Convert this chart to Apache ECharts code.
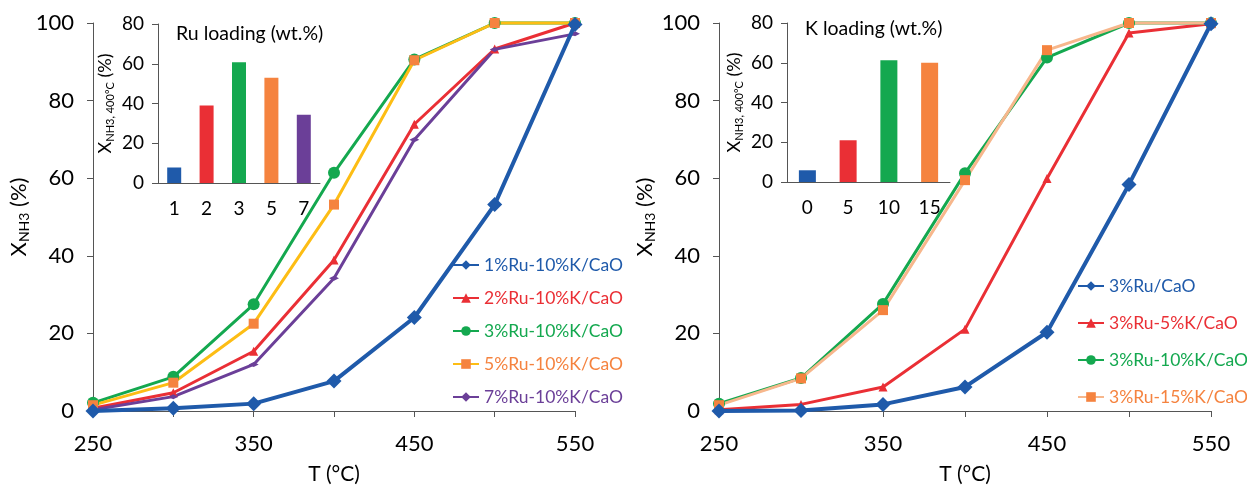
<!DOCTYPE html>
<html lang="en">
<head>
    <meta charset="UTF-8">
    <script src="https://cdn.jsdelivr.net/npm/echarts@6/dist/echarts.min.js"></script>
    <title>NH3 conversion</title>
    <style>
        html, body { margin: 0; padding: 0; background: #fff; }
        #chart { width: 1247px; height: 490px; }
    </style>
</head>
<body>
<div id="chart"></div>
<script type="text/javascript">
    // temperatures (x axis)
    var temps = [250, 300, 350, 400, 450, 500, 550];

    // left panel: Ru loading series
    var ru1 = [0, 0.7, 1.9, 7.7, 24.1, 53.2, 99.6];
    var ru2 = [0.7, 4.7, 15.4, 38.9, 73.9, 93.3, 100];
    var ru3 = [2.1, 8.8, 27.5, 61.4, 90.6, 100, 100];
    var ru5 = [1.5, 7.3, 22.5, 53.2, 90.4, 100, 100];
    var ru7 = [0.3, 3.7, 12.0, 34.2, 69.9, 93.2, 97.2];

    // right panel: K loading series
    var k0 = [0, 0.1, 1.7, 6.2, 20.3, 58.4, 99.8];
    var k5 = [0.3, 1.7, 6.2, 21.1, 59.9, 97.4, 99.8];
    var k10 = [1.9, 8.5, 27.6, 61.3, 91.1, 100, 100];
    var k15 = [1.5, 8.4, 26.0, 59.5, 93.0, 100, 100];

    // insets (conversion at 400 C)
    var ruLoad = ['1', '2', '3', '5', '7'];
    var ruConv = [7.8, 39.0, 60.8, 52.9, 34.3];
    var kLoad = ['0', '5', '10', '15'];
    var kConv = [5.9, 21.0, 61.2, 60.0];

    var xTicks = [250, 350, 450, 550];

    var BLUE = '#1f5aaa', RED = '#ea2f35', GREEN = '#14a84f', ORANGE = '#f5833f',
        YELLOW = '#fdbd14', PURPLE = '#6b3f98', PEACH = '#f7b78c';
    var FONT = 'Lato';
    var AXIS = '#555';
    var TXT = '#000';

    function pts(arr) {
        return temps.map(function (t, i) { return [t, arr[i]]; });
    }

    var myChart = echarts.init(document.getElementById('chart'));

    function mainX(idx) {
        return {
            type: 'value', gridIndex: idx, min: 250, max: 550, interval: 50,
            name: 'T (°C)', nameLocation: 'middle', nameGap: 53,
            nameTextStyle: { fontSize: 21, color: TXT, fontFamily: FONT },
            splitLine: { show: false },
            axisLine: { lineStyle: { color: AXIS, width: 1 } },
            axisTick: { show: true, length: 6, lineStyle: { color: AXIS } },
            axisLabel: {
                fontSize: 22, color: TXT, fontFamily: FONT, margin: 22,
                formatter: function (v) { return xTicks.indexOf(v) >= 0 ? v : ''; }
            }
        };
    }
    function mainY(idx) {
        return {
            type: 'value', gridIndex: idx, min: 0, max: 100, interval: 20,
            name: '{a|X}{b|NH3}{a| (%)}', nameLocation: 'middle', nameGap: 57,
            nameTextStyle: {
                color: TXT, fontFamily: FONT,
                rich: {
                    a: { fontSize: 22, color: TXT, fontFamily: FONT, lineHeight: 26 },
                    b: { fontSize: 14, color: TXT, fontFamily: FONT, lineHeight: 14, verticalAlign: 'bottom' }
                }
            },
            splitLine: { show: false },
            axisLine: { show: true, lineStyle: { color: AXIS, width: 1 } },
            axisTick: { show: true, length: 6, lineStyle: { color: AXIS } },
            axisLabel: { fontSize: 22, color: TXT, fontFamily: FONT, margin: 19 }
        };
    }
    function insetX(idx, cats) {
        return {
            type: 'category', gridIndex: idx, data: cats,
            axisLine: { lineStyle: { color: AXIS, width: 1 } },
            axisTick: { show: false },
            axisLabel: { fontSize: 19, color: TXT, fontFamily: FONT, margin: 16 }
        };
    }
    function insetY(idx) {
        return {
            type: 'value', gridIndex: idx, min: 0, max: 80, interval: 20,
            name: '{a|X}{b|NH3, 400°C}{a| (%)}', nameLocation: 'middle', nameGap: 42,
            nameTextStyle: {
                color: TXT, fontFamily: FONT,
                rich: {
                    a: { fontSize: 18, color: TXT, fontFamily: FONT, lineHeight: 22 },
                    b: { fontSize: 11, color: TXT, fontFamily: FONT, lineHeight: 12, verticalAlign: 'bottom' }
                }
            },
            splitLine: { show: false },
            axisLine: { show: true, lineStyle: { color: AXIS, width: 1 } },
            axisTick: { show: true, length: 6, lineStyle: { color: AXIS } },
            axisLabel: { fontSize: 19, color: TXT, fontFamily: FONT, margin: 14 }
        };
    }
    function line(name, arr, xi, lineColor, markColor, symbol, size, width, z) {
        return {
            name: name, type: 'line', xAxisIndex: xi, yAxisIndex: xi,
            data: pts(arr), clip: false, z: z || 2,
            symbol: symbol, symbolSize: size, showSymbol: true,
            lineStyle: { color: lineColor, width: width },
            itemStyle: { color: markColor, borderWidth: 0 }
        };
    }
    function bars(name, vals, idx, colors, w) {
        return {
            name: name, type: 'bar', xAxisIndex: idx, yAxisIndex: idx, barWidth: w,
            data: vals.map(function (v, i) { return { value: v, itemStyle: { color: colors[i] } }; })
        };
    }
    function legendItem(name, color) {
        return { name: name, textStyle: { color: color } };
    }

    var option = {
        animation: false,
        textStyle: { fontFamily: FONT },
        title: [
            { text: 'Ru loading (wt.%)', left: 171, top: 19, textStyle: { fontSize: 19.5, fontWeight: 'normal', color: TXT, fontFamily: FONT } },
            { text: 'K loading (wt.%)', left: 800, top: 14, textStyle: { fontSize: 19.5, fontWeight: 'normal', color: TXT, fontFamily: FONT } }
        ],
        grid: [
            { left: 93, top: 23, width: 482, height: 390 },
            { left: 719, top: 23, width: 492, height: 390 },
            { left: 158, top: 24, width: 162, height: 159 },
            { left: 787, top: 23, width: 163, height: 159 }
        ],
        legend: [
            {
                orient: 'vertical', left: 452, top: 256, itemWidth: 26, itemHeight: 12, itemGap: 15,
                textStyle: { fontSize: 17.5, fontFamily: FONT }, padding: 0,
                data: [
                    legendItem('1%Ru-10%K/CaO', BLUE), legendItem('2%Ru-10%K/CaO', RED),
                    legendItem('3%Ru-10%K/CaO', GREEN), legendItem('5%Ru-10%K/CaO', ORANGE),
                    legendItem('7%Ru-10%K/CaO', PURPLE)
                ]
            },
            {
                orient: 'vertical', left: 1077, top: 277, itemWidth: 26, itemHeight: 12, itemGap: 19,
                textStyle: { fontSize: 17.5, fontFamily: FONT }, padding: 0,
                data: [
                    legendItem('3%Ru/CaO', BLUE), legendItem('3%Ru-5%K/CaO', RED),
                    legendItem('3%Ru-10%K/CaO', GREEN), legendItem('3%Ru-15%K/CaO', ORANGE)
                ]
            }
        ],
        xAxis: [mainX(0), mainX(1), insetX(2, ruLoad), insetX(3, kLoad)],
        yAxis: [mainY(0), mainY(1), insetY(2), insetY(3)],
        series: [
            line('1%Ru-10%K/CaO', ru1, 0, BLUE, BLUE, 'diamond', 15, 4, 5),
            line('2%Ru-10%K/CaO', ru2, 0, RED, RED, 'triangle', 9, 3),
            line('3%Ru-10%K/CaO', ru3, 0, GREEN, GREEN, 'circle', 12, 3),
            line('5%Ru-10%K/CaO', ru5, 0, YELLOW, ORANGE, 'rect', 10, 3),
            line('7%Ru-10%K/CaO', ru7, 0, PURPLE, PURPLE, 'diamond', [10, 5], 3),

            line('3%Ru/CaO', k0, 1, BLUE, BLUE, 'diamond', 15, 4, 5),
            line('3%Ru-5%K/CaO', k5, 1, RED, RED, 'triangle', 9, 3),
            line('3%Ru-10%K/CaO', k10, 1, GREEN, GREEN, 'circle', 12, 3),
            line('3%Ru-15%K/CaO', k15, 1, PEACH, ORANGE, 'rect', 10, 3),

            bars('Ru inset', ruConv, 2, [BLUE, RED, GREEN, ORANGE, PURPLE], 14),
            bars('K inset', kConv, 3, [BLUE, RED, GREEN, ORANGE], 17)
        ]
    };
    myChart.setOption(option);
</script>
</body>
</html>
